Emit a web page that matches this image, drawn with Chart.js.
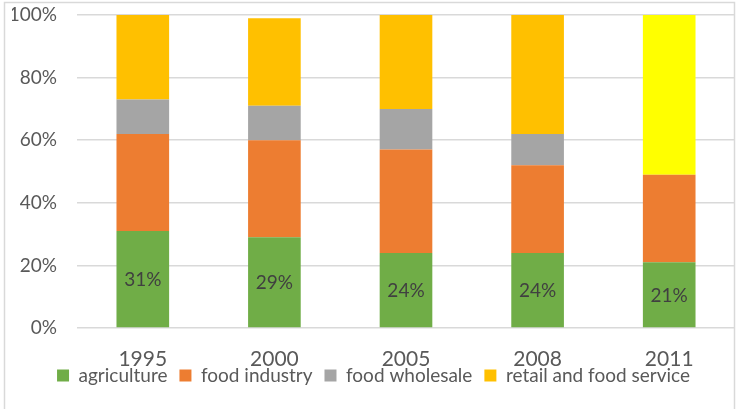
<!DOCTYPE html>
<html>
<head>
<meta charset="utf-8">
<script src="https://cdn.jsdelivr.net/npm/chart.js@4/dist/chart.umd.min.js"></script>
<style>
  html, body { margin: 0; padding: 0; background: #ffffff; }
  #wrap { width: 736px; height: 409px; position: relative; }
</style>
</head>
<body>
<div id="wrap"><canvas id="chart"></canvas></div>
<script>
// Share of the food dollar by stage, in percent
const years = ['1995', '2000', '2005', '2008', '2011'];
const agriculture = [31, 29, 24, 24, 21];
const foodIndustry = [31, 31, 33, 28, 28];
const foodWholesale = [11, 11, 13, 10, 0];
const retailFoodService = [27, 28, 30, 38, 51];
const yTicks = [0, 20, 40, 60, 80, 100];

const FONT = 'Lato, "Open Sans", sans-serif';
const TEXT = '#595959';

// Light frame around the whole chart
const framePlugin = {
  id: 'frame',
  beforeDraw(chart) {
    const ctx = chart.ctx;
    ctx.save();
    ctx.fillStyle = '#ffffff';
    ctx.fillRect(0, 0, chart.width, chart.height);
    ctx.strokeStyle = '#d9d9d9';
    ctx.lineWidth = 1.5;
    ctx.strokeRect(4.5, 2.5, chart.width - 6, chart.height + 20);
    ctx.restore();
  }
};

// Tuck the legend row up close under the year labels
const legendLift = {
  id: 'legendLift',
  afterLayout(chart) {
    const lg = chart.legend;
    if (lg) { lg.top -= 14; lg.bottom -= 14; }
  }
};

// Percent labels in the middle of the agriculture segments
const valueLabels = {
  id: 'valueLabels',
  afterDatasetsDraw(chart) {
    const ctx = chart.ctx;
    const meta = chart.getDatasetMeta(0);
    const data = chart.data.datasets[0].data;
    ctx.save();
    ctx.fillStyle = '#404040';
    ctx.font = '19px ' + FONT;
    ctx.textAlign = 'center';
    ctx.textBaseline = 'middle';
    meta.data.forEach((bar, i) => {
      const p = bar.getProps(['x', 'y', 'base'], true);
      ctx.fillText(data[i] + '%', p.x, (p.y + p.base) / 2 + 1);
    });
    ctx.restore();
  }
};

new Chart(document.getElementById('chart'), {
  type: 'bar',
  data: {
    labels: years,
    datasets: [
      { label: 'agriculture', data: agriculture, backgroundColor: '#70AD47' },
      { label: 'food industry', data: foodIndustry, backgroundColor: '#ED7D31' },
      { label: 'food wholesale', data: foodWholesale, backgroundColor: '#A5A5A5' },
      { label: 'retail and food service', data: retailFoodService,
        backgroundColor: ['#FFC000', '#FFC000', '#FFC000', '#FFC000', '#FFFF00'] }
    ]
  },
  options: {
    responsive: true,
    maintainAspectRatio: false,
    animation: false,
    layout: { padding: { left: 12, right: 1, top: 15, bottom: 0 } },
    datasets: {
      bar: { barPercentage: 0.4, categoryPercentage: 1.0, borderWidth: 0 }
    },
    scales: {
      x: {
        stacked: true,
        afterFit(scale) { scale.height = 40; },
        grid: { display: false, drawTicks: false },
        border: { display: false },
        ticks: { color: TEXT, font: { family: FONT, size: 21, lineHeight: 0.8 }, padding: 23 }
      },
      y: {
        stacked: true,
        min: 0,
        max: 100,
        afterFit(scale) {
          scale.width = 65;
          scale.paddingTop = 0;
          scale.paddingBottom = 0;
        },
        afterBuildTicks(scale) { scale.ticks = yTicks.map(v => ({ value: v })); },
        grid: { color: '#d9d9d9', lineWidth: 1.5, drawTicks: false },
        border: { display: false },
        ticks: {
          color: TEXT,
          font: { family: FONT, size: 19 },
          padding: 20,
          callback: v => v + '%'
        }
      }
    },
    plugins: {
      tooltip: { enabled: false },
      legend: {
        position: 'bottom',
        labels: {
          color: TEXT,
          font: { family: FONT, size: 19 },
          boxWidth: 12,
          boxHeight: 12,
          padding: 12,
          generateLabels(chart) {
            return chart.data.datasets.map((ds, i) => ({
              text: ds.label,
              fillStyle: Array.isArray(ds.backgroundColor) ? ds.backgroundColor[0] : ds.backgroundColor,
              strokeStyle: 'transparent',
              lineWidth: 0,
              hidden: false,
              datasetIndex: i,
              fontColor: TEXT
            }));
          }
        }
      }
    }
  },
  plugins: [framePlugin, legendLift, valueLabels]
});
</script>
</body>
</html>
